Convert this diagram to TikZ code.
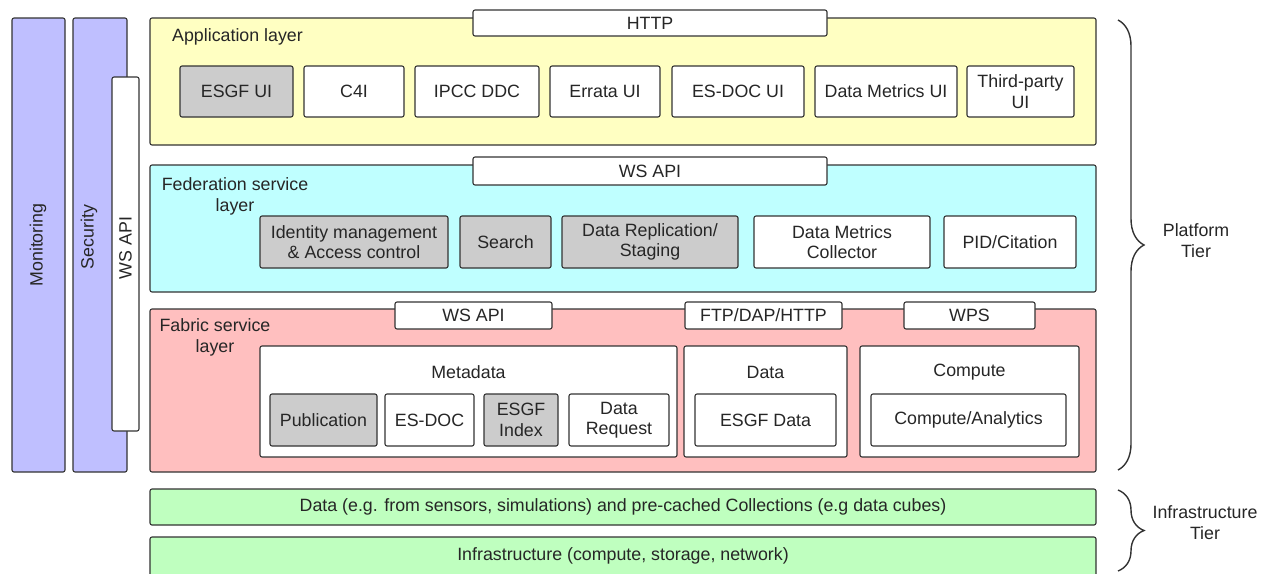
\documentclass[tikz,border=0pt]{standalone}
\usepackage{fontspec}
\setmainfont{Liberation Sans}
\usetikzlibrary{decorations.pathreplacing}
\definecolor{linec}{HTML}{333333}
\definecolor{lav}{HTML}{BFBFFF}
\definecolor{yel}{HTML}{FFFFC2}
\definecolor{cya}{HTML}{BFFFFF}
\definecolor{pnk}{HTML}{FFBFBF}
\definecolor{grn}{HTML}{BFFFBF}
\definecolor{gry}{HTML}{CCCCCC}
\tikzset{
  box/.style={draw=linec, rounded corners=2pt, line width=1.1pt, inner sep=0pt, align=center,
    font=\fontsize{17.8}{20.5}\selectfont, text=black!85},
  lbl/.style={inner sep=0pt, align=center, font=\fontsize{17.8}{21}\selectfont, text=black!85},
  tier/.style={draw=linec, line width=1.4pt, decorate, decoration={brace, amplitude=26pt}}
}
\newcommand{\mybox}[7]{\node[box, fill=#6, minimum width={(#4-#2)*1pt}, minimum height={(#5-#3)*1pt}] (#1) at ({(#2+#4)/2},{(#3+#5)/2}) {#7};}
\begin{document}
\begin{tikzpicture}[x=1pt,y=-1pt]
\useasboundingbox (0,0) rectangle (1265,573);
% left columns
\mybox{mon}{12}{18}{65}{472}{lav}{}
\node[lbl, rotate=90] (monl) at (38,245) {Monitoring};
\mybox{sec}{73}{18}{127}{472}{lav}{}
\node[lbl, rotate=90] (secl) at (89,237) {Security};
\mybox{wsv}{112}{77}{139}{431}{white}{}
\node[lbl, rotate=90] (wsvl) at (125.5,248) {WS API};
% application layer
\mybox{app}{150}{18}{1096}{145}{yel}{}
\node[lbl, anchor=west] (appl) at (172,37) {Application layer};
\mybox{http}{473}{10}{827}{36}{white}{HTTP}
\mybox{esgfui}{180}{66}{293}{117}{gry}{ESGF UI}
\mybox{c4i}{304}{66}{404}{117}{white}{C4I}
\mybox{ipcc}{415}{66}{539}{117}{white}{IPCC DDC}
\mybox{errata}{550}{66}{660}{117}{white}{Errata UI}
\mybox{esdocui}{672}{66}{804}{117}{white}{ES-DOC UI}
\mybox{dmui}{815}{66}{957}{117}{white}{Data Metrics UI}
\mybox{third}{967}{66}{1074}{117}{white}{Third-party\\UI}
% federation layer
\mybox{fed}{150}{165}{1096}{292}{cya}{}
\node[lbl] (fedl) at (235,196) {Federation service\\layer};
\mybox{wsfed}{473}{157}{827}{185}{white}{WS API}
\mybox{idm}{260}{216}{448}{268}{gry}{Identity management\\\& Access control}
\mybox{search}{460}{216}{551}{268}{gry}{Search}
\mybox{repl}{562}{216}{738}{268}{gry}{Data Replication/\\Staging}
\mybox{dmc}{754}{216}{930}{268}{white}{Data Metrics\\Collector}
\mybox{pid}{944}{216}{1076}{268}{white}{PID/Citation}
% fabric layer
\mybox{fab}{150}{309}{1096}{472}{pnk}{}
\node[lbl] (fabl) at (215,337) {Fabric service\\layer};
\mybox{wsfab}{395}{302}{552}{329}{white}{WS API}
\mybox{ftp}{685}{302}{842}{329}{white}{FTP/DAP/HTTP}
\mybox{wps}{904}{302}{1035}{329}{white}{WPS}
\mybox{meta}{260}{346}{677}{457}{white}{}
\node[lbl] (metal) at (468.5,372) {Metadata};
\mybox{datac}{684}{346}{847}{457}{white}{}
\node[lbl] (datal) at (765.5,372) {Data};
\mybox{comp}{860}{346}{1079}{457}{white}{}
\node[lbl] (compl) at (969.5,372) {Compute};
\mybox{pub}{270}{394}{377}{446}{gry}{Publication}
\mybox{esdoc}{385}{394}{474}{446}{white}{ES-DOC}
\mybox{index}{484}{394}{558}{446}{gry}{ESGF\\Index}
\mybox{dreq}{569}{394}{669}{446}{white}{Data\\Request}
\mybox{esgfdata}{695}{394}{836}{446}{white}{ESGF Data}
\mybox{analytics}{871}{394}{1066}{446}{white}{Compute/Analytics}
% infrastructure
\mybox{dataline}{150}{489}{1096}{525}{grn}{Data (e.g. from sensors, simulations) and pre-cached Collections (e.g data cubes)}
\mybox{infra}{150}{537}{1096}{577}{grn}{}
\node[lbl] (infral) at (623,556) {Infrastructure (compute, storage, network)};
% braces
\coordinate (pt) at (1118,20);
\coordinate (pb) at (1118,470);
\draw[tier] (pt) -- (pb);
\node[lbl] (platl) at (1196,241) {Platform\\Tier};
\coordinate (it) at (1118,490);
\coordinate (ib) at (1118,571);
\draw[tier] (it) -- (ib);
\node[lbl] (infl) at (1205,523) {Infrastructure\\Tier};
\end{tikzpicture}
\end{document}
